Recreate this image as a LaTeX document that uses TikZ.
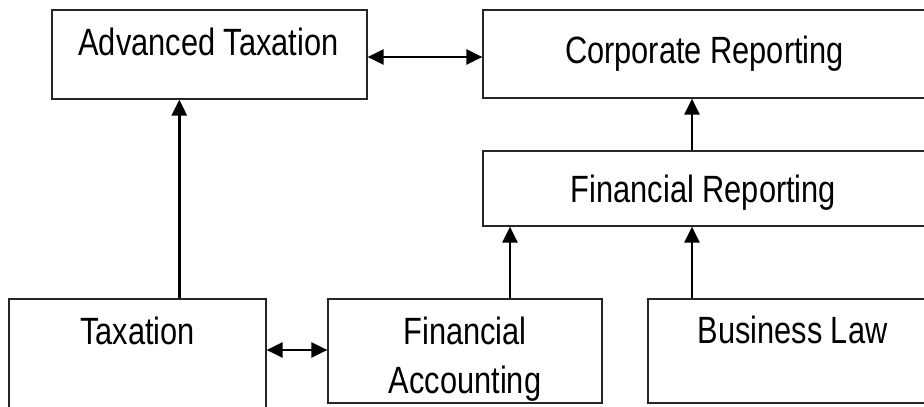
\documentclass[tikz,border=0pt]{standalone}
\usepackage{fontspec}
\setmainfont{Liberation Sans}[FakeStretch=0.81]
\usetikzlibrary{arrows.meta}
\begin{document}
\begin{tikzpicture}[x=1pt,y=-1pt,
  box/.style={draw=black!85, line width=1.2pt, rectangle, inner sep=0pt, fill=white},
  lbl/.style={anchor=base, inner sep=0pt, font=\fontsize{38}{49}\selectfont, align=center},
  arr/.style={line width=2.5pt, -{Triangle[length=16pt,width=15pt]}},
  darr/.style={line width=2.5pt, {Triangle[length=16pt,width=15pt]}-{Triangle[length=16pt,width=15pt]}}]
\useasboundingbox (0,0) rectangle (924,407);
\clip (0,0) rectangle (924,407);
% boxes
\node[box, minimum width=315pt, minimum height=89pt] (at) at (209.5,54.5) {};
\node[box, minimum width=443pt, minimum height=88pt] (cr) at (704.5,54) {};
\node[box, minimum width=443pt, minimum height=75pt] (fr) at (704.5,188.5) {};
\node[box, minimum width=257pt, minimum height=113pt] (tx) at (137.5,355.5) {};
\node[box, minimum width=274pt, minimum height=104pt] (fa) at (465,351) {};
\node[box, minimum width=289pt, minimum height=104pt] (bl) at (792.5,351) {};
% labels
\node[lbl] (atl) at (208.5,55) {Advanced Taxation};
\node[lbl] (crl) at (704.5,63) {Corporate Reporting};
\node[lbl] (frl) at (703.5,202) {Financial Reporting};
\node[lbl] (txl) at (137.5,344) {Taxation};
\node[lbl] (fal) at (465,393) {Financial\\Accounting};
\node[lbl] (bll) at (792.5,343) {Business Law};
% connectors
\draw[darr] ([yshift=-2.5pt]at.east) -- ([yshift=-2.5pt]at.east -| cr.west);
\draw[arr] ([xshift=41.8pt]tx.north) -- ([xshift=41.8pt]tx.north |- at.south);
\draw[darr] ([yshift=5.5pt]tx.east) -- ([yshift=5.5pt]tx.east -| fa.west);
\draw[arr] ([xshift=45pt]fa.north) -- ([xshift=45pt]fa.north |- fr.south);
\draw[arr] ([xshift=-100.5pt]bl.north) -- ([xshift=-100.5pt]bl.north |- fr.south);
\draw[arr] ([xshift=-12.5pt]fr.north) -- ([xshift=-12.5pt]fr.north |- cr.south);
\end{tikzpicture}
\end{document}
